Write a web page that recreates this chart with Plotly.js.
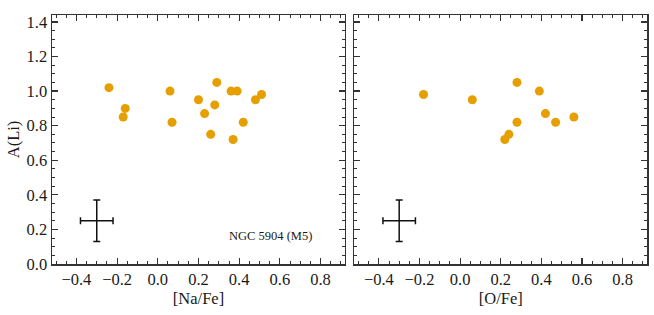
<!DOCTYPE html>
<html>
<head>
<meta charset="utf-8">
<script src="https://cdn.plot.ly/plotly-3.0.1.min.js"></script>
<style>html,body{margin:0;padding:0;background:#fff;}#chart{width:654px;height:315px;}</style>
</head>
<body>
<div id="chart"></div>
<script>
// Left panel: [Na/Fe] vs A(Li)
const naFe = [-0.24, -0.16, -0.17, 0.06, 0.07, 0.20, 0.23, 0.28, 0.29, 0.26, 0.36, 0.39, 0.37, 0.42, 0.48, 0.51];
const liNa = [1.02, 0.90, 0.85, 1.00, 0.82, 0.95, 0.87, 0.92, 1.05, 0.75, 1.00, 1.00, 0.72, 0.82, 0.95, 0.98];
// Right panel: [O/Fe] vs A(Li)
const oFe = [-0.18, 0.06, 0.28, 0.39, 0.42, 0.28, 0.47, 0.56, 0.24, 0.22];
const liO = [0.98, 0.95, 1.05, 1.00, 0.87, 0.82, 0.82, 0.85, 0.75, 0.72];
// Typical error bar
const errX = [-0.3];
const errY = [0.25];
const errDx = [0.08];
const errDy = [0.12];
const xTickVals = [-0.4, -0.2, 0.0, 0.2, 0.4, 0.6, 0.8];
const yTickVals = [0.0, 0.2, 0.4, 0.6, 0.8, 1.0, 1.2, 1.4];
const clusterLabel = 'NGC 5904 (M5)';

const orange = '#E69F00';
const frame = '#333333';
const fam = 'Liberation Serif, serif';
const tickFont = {family: fam, size: 16.5, color: '#1a1a1a'};
const titleFont = {family: fam, size: 16.5, color: '#1a1a1a'};

function pts(x, y, xa, ya) {
  return {x: x, y: y, xaxis: xa, yaxis: ya, type: 'scatter', mode: 'markers',
    marker: {color: orange, size: 9, line: {width: 0}}, hoverinfo: 'skip', showlegend: false};
}
function errbar(xa, ya) {
  return {x: errX, y: errY, xaxis: xa, yaxis: ya, type: 'scatter', mode: 'markers',
    marker: {size: 0.1, color: 'rgba(0,0,0,0)'},
    error_x: {type: 'data', array: errDx, visible: true, color: '#111', thickness: 1.5, width: 3.5},
    error_y: {type: 'data', array: errDy, visible: true, color: '#111', thickness: 1.5, width: 3.5},
    hoverinfo: 'skip', showlegend: false};
}

const traces = [
  pts(naFe, liNa, 'x', 'y'),
  errbar('x', 'y'),
  pts(oFe, liO, 'x2', 'y2'),
  errbar('x2', 'y2')
];

function xaxis(domain, title, anchor) {
  return {domain: domain, anchor: anchor, range: [-0.52, 0.92], tickvals: xTickVals,
    tickformat: '.1f', ticks: 'inside', ticklen: 6, tickwidth: 1.2, tickcolor: frame,
    minor: {dtick: 0.05, tick0: 0, ticks: 'inside', ticklen: 3, tickwidth: 1, tickcolor: frame},
    showline: true, linecolor: frame, linewidth: 1.5, mirror: 'allticks',
    showgrid: false, zeroline: false, tickfont: tickFont,
    title: {text: title, font: titleFont, standoff: 1}};
}
function yaxis(anchor, showLabels, title) {
  const a = {anchor: anchor, range: [0, 1.44], tickvals: yTickVals, tickformat: '.1f',
    ticks: 'inside', ticklen: 6, tickwidth: 1.2, tickcolor: frame,
    minor: {dtick: 0.05, tick0: 0, ticks: 'inside', ticklen: 3, tickwidth: 1, tickcolor: frame},
    showline: true, linecolor: frame, linewidth: 1.5, mirror: 'allticks',
    showgrid: false, zeroline: false, tickfont: tickFont, showticklabels: showLabels};
  if (title) a.title = {text: title, font: titleFont, standoff: 3};
  return a;
}

const layout = {
  width: 654, height: 315,
  margin: {l: 52, r: 7, t: 15, b: 51},
  paper_bgcolor: '#fff', plot_bgcolor: '#fff',
  font: tickFont,
  xaxis: xaxis([0, 0.4924], '[Na/Fe]', 'y'),
  yaxis: yaxis('x', true, 'A(Li)'),
  xaxis2: xaxis([0.5084, 1], '[O/Fe]', 'y2'),
  yaxis2: yaxis('x2', false, null),
  annotations: [{
    x: 0.77, y: 0.164, xref: 'x', yref: 'y', xanchor: 'right', yanchor: 'middle',
    text: clusterLabel, showarrow: false,
    font: {family: fam, size: 12.5, color: '#1a1a1a'}
  }]
};

Plotly.newPlot('chart', traces, layout, {staticPlot: true, displayModeBar: false});
</script>
</body>
</html>
